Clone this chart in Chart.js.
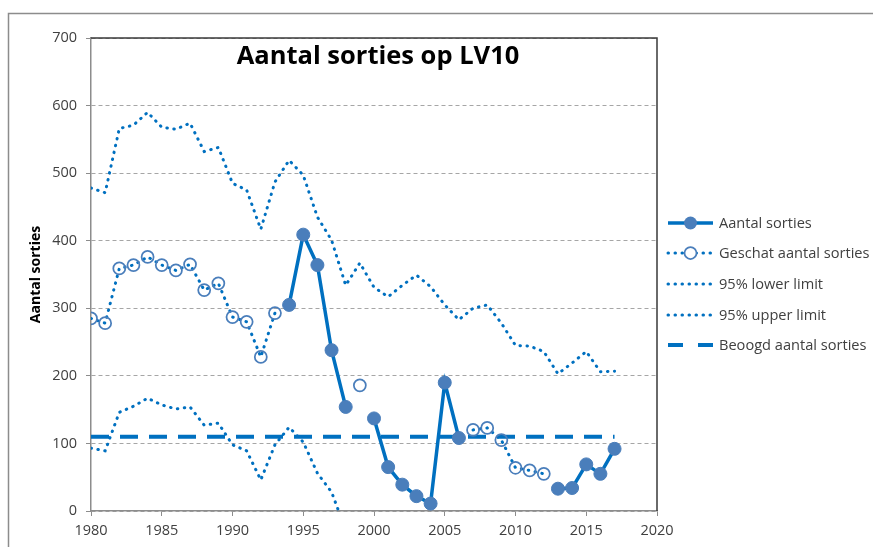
<!DOCTYPE html>
<html>
<head>
<meta charset="utf-8">
<script src="https://cdn.jsdelivr.net/npm/chart.js@4.4.0/dist/chart.umd.min.js"></script>
<style>
  body { margin: 0; background: #fff; }
</style>
</head>
<body>
<canvas id="myChart" width="873" height="547"></canvas>
<script>
// Years on the x axis
const years = [1980, 1981, 1982, 1983, 1984, 1985, 1986, 1987, 1988, 1989,
               1990, 1991, 1992, 1993, 1994, 1995, 1996, 1997, 1998, 1999,
               2000, 2001, 2002, 2003, 2004, 2005, 2006, 2007, 2008, 2009,
               2010, 2011, 2012, 2013, 2014, 2015, 2016, 2017];

// Counted sorties (filled markers)
const aantal = [null, null, null, null, null, null, null, null, null, null,
                null, null, null, null, 305, 409, 364, 238, 154, null,
                137, 65, 39, 22, 11, 190, 108, null, null, null,
                null, null, null, 33, 34, 69, 55, 92];

// Estimated sorties (open markers)
const geschat = [285, 278, 359, 364, 376, 364, 356, 365, 327, 337,
                 287, 280, 228, 293, null, null, null, null, null, 186,
                 null, null, null, null, null, null, null, 120, 123, 105,
                 64, 60, 55, null, null, null, null, null];

// 95% limits
const lower = [93, 89, 146, 155, 167, 157, 151, 154, 127, 130,
               98, 89, 46, 98, 124, 102, 56, 28, -28, 3,
               null, null, null, null, null, null, null, null, null, null,
               null, null, null, null, null, null, null, null];
const upper = [478, 471, 566, 571, 590, 568, 565, 574, 532, 538,
               485, 475, 417, 487, 519, 497, 435, 401, 334, 367,
               331, 317, 334, 349, 332, 305, 283, 300, 305, 278,
               245, 244, 236, 203, 219, 236, 206, 207];

// Target number of sorties
const beoogd = [110, 110, 110, 110, 110, 110, 110, 110, 110, 110,
                110, 110, 110, 110, 110, 110, 110, 110, 110, 110,
                110, 110, 110, 110, 110, 110, 110, 110, 110, 110,
                110, 110, 110, 110, 110, 110, 110, 110];

const xTicks = [1980, 1985, 1990, 1995, 2000, 2005, 2010, 2015, 2020];
const yTicks = [0, 100, 200, 300, 400, 500, 600, 700];

const seriesNames = ['Aantal sorties', 'Geschat aantal sorties', '95% lower limit',
                     '95% upper limit', 'Beoogd aantal sorties'];

const BLUE = '#0070c0';
const MARKER = '#4a7ebb';
const FONT = '"Open Sans", sans-serif';
const DOTS = [0.5, 6.5];

function toPoints(values) {
    return years.map((yr, i) => ({ x: yr, y: values[i] }));
}

// Frame, title, axis label, borders and legend drawn on the canvas
const decor = {
    id: 'decor',
    beforeDraw(chart) {
        const ctx = chart.ctx;
        ctx.save();
        ctx.fillStyle = '#fff';
        ctx.fillRect(0, 0, chart.width, chart.height);
        ctx.strokeStyle = '#8c8c8c';
        ctx.lineWidth = 1.5;
        ctx.strokeRect(8.5, 13.5, chart.width + 10, chart.height + 10);
        ctx.restore();
    },
    afterDraw(chart) {
        const ctx = chart.ctx;
        const a = chart.chartArea;
        ctx.save();

        // top and right border of the plot area
        ctx.strokeStyle = '#3a3a3a';
        ctx.lineWidth = 1.5;
        ctx.beginPath();
        ctx.moveTo(a.left, a.top);
        ctx.lineTo(a.right, a.top);
        ctx.lineTo(a.right, a.bottom);
        ctx.stroke();

        // title
        ctx.fillStyle = '#000';
        ctx.font = 'bold 25.5px ' + FONT;
        ctx.textAlign = 'center';
        ctx.textBaseline = 'middle';
        ctx.fillText('Aantal sorties op LV10', 378, 57);

        // y axis title
        ctx.save();
        ctx.translate(36, (a.top + a.bottom) / 2);
        ctx.rotate(-Math.PI / 2);
        ctx.font = 'bold 14px ' + FONT;
        ctx.fillText('Aantal sorties', 0, 0);
        ctx.restore();

        // legend
        const x0 = 668, x1 = 713;
        const rows = [223, 253, 284, 315, 345];
        ctx.font = '14.6px ' + FONT;
        ctx.textAlign = 'left';
        ctx.fillStyle = '#404040';
        rows.forEach((y, i) => {
            ctx.save();
            ctx.strokeStyle = BLUE;
            ctx.lineCap = 'round';
            if (i === 0) {
                ctx.lineWidth = 3.5;
                ctx.lineCap = 'butt';
            } else if (i === 4) {
                ctx.lineWidth = 4;
                ctx.lineCap = 'butt';
                ctx.setLineDash([15, 15]);
            } else {
                ctx.lineWidth = 3;
                ctx.setLineDash(DOTS);
            }
            ctx.beginPath();
            ctx.moveTo(x0, y);
            ctx.lineTo(x1, y);
            ctx.stroke();
            ctx.setLineDash([]);
            if (i === 0) {
                ctx.fillStyle = MARKER;
                ctx.beginPath();
                ctx.arc((x0 + x1) / 2, y, 6.5, 0, Math.PI * 2);
                ctx.fill();
            } else if (i === 1) {
                ctx.fillStyle = '#fff';
                ctx.strokeStyle = MARKER;
                ctx.lineWidth = 1.75;
                ctx.beginPath();
                ctx.arc((x0 + x1) / 2, y, 6, 0, Math.PI * 2);
                ctx.fill();
                ctx.stroke();
            }
            ctx.restore();
            ctx.fillText(seriesNames[i], 719, y + 1);
        });

        ctx.restore();
    }
};

const ctx = document.getElementById('myChart').getContext('2d');
const myChart = new Chart(ctx, {
    type: 'line',
    data: {
        datasets: [
            {
                label: seriesNames[0],
                data: toPoints(aantal),
                borderColor: BLUE,
                borderWidth: 3.5,
                pointRadius: 6.5,
                pointBackgroundColor: MARKER,
                pointBorderColor: MARKER,
                pointBorderWidth: 1,
                spanGaps: false
            },
            {
                label: seriesNames[1],
                data: toPoints(geschat),
                borderColor: BLUE,
                borderWidth: 3,
                borderDash: DOTS,
                borderCapStyle: 'round',
                pointRadius: 6,
                pointBackgroundColor: 'rgba(255,255,255,0)',
                pointBorderColor: MARKER,
                pointBorderWidth: 1.75,
                spanGaps: false
            },
            {
                label: seriesNames[2],
                data: toPoints(lower),
                borderColor: BLUE,
                borderWidth: 3,
                borderDash: DOTS,
                borderCapStyle: 'round',
                pointRadius: 0,
                spanGaps: false
            },
            {
                label: seriesNames[3],
                data: toPoints(upper),
                borderColor: BLUE,
                borderWidth: 3,
                borderDash: DOTS,
                borderCapStyle: 'round',
                pointRadius: 0,
                spanGaps: false
            },
            {
                label: seriesNames[4],
                data: toPoints(beoogd),
                borderColor: BLUE,
                borderWidth: 4,
                borderDash: [18, 11],
                pointRadius: 0
            }
        ]
    },
    options: {
        responsive: false,
        animation: false,
        layout: { padding: { left: 0, right: 216, top: 38, bottom: 0 } },
        plugins: {
            legend: { display: false },
            title: { display: false },
            tooltip: { enabled: false }
        },
        elements: { line: { tension: 0 } },
        scales: {
            x: {
                type: 'linear',
                min: 1980,
                max: 2020,
                afterBuildTicks: (scale) => { scale.ticks = xTicks.map(v => ({ value: v })); },
                ticks: {
                    color: '#404040',
                    font: { family: FONT, size: 14.5 },
                    padding: 6,
                    maxRotation: 0,
                    callback: (v) => String(v)
                },
                grid: {
                    drawOnChartArea: false,
                    drawTicks: true,
                    tickLength: 5,
                    tickColor: '#8c8c8c',
                    tickBorderDash: []
                },
                border: { color: '#8c8c8c', width: 1.5 },
                afterFit: (scale) => { scale.height = 36; }
            },
            y: {
                min: 0,
                max: 700,
                afterBuildTicks: (scale) => { scale.ticks = yTicks.map(v => ({ value: v })); },
                ticks: {
                    color: '#404040',
                    font: { family: FONT, size: 14.5 },
                    padding: 9
                },
                grid: {
                    color: '#a6a6a6',
                    lineWidth: 1,
                    tickBorderDash: [],
                    tickLength: 5,
                    tickColor: '#8c8c8c'
                },
                border: { color: '#8c8c8c', width: 1.5, dash: [4, 3] },
                afterFit: (scale) => { scale.width = 91; }
            }
        }
    },
    plugins: [decor]
});
</script>
</body>
</html>
